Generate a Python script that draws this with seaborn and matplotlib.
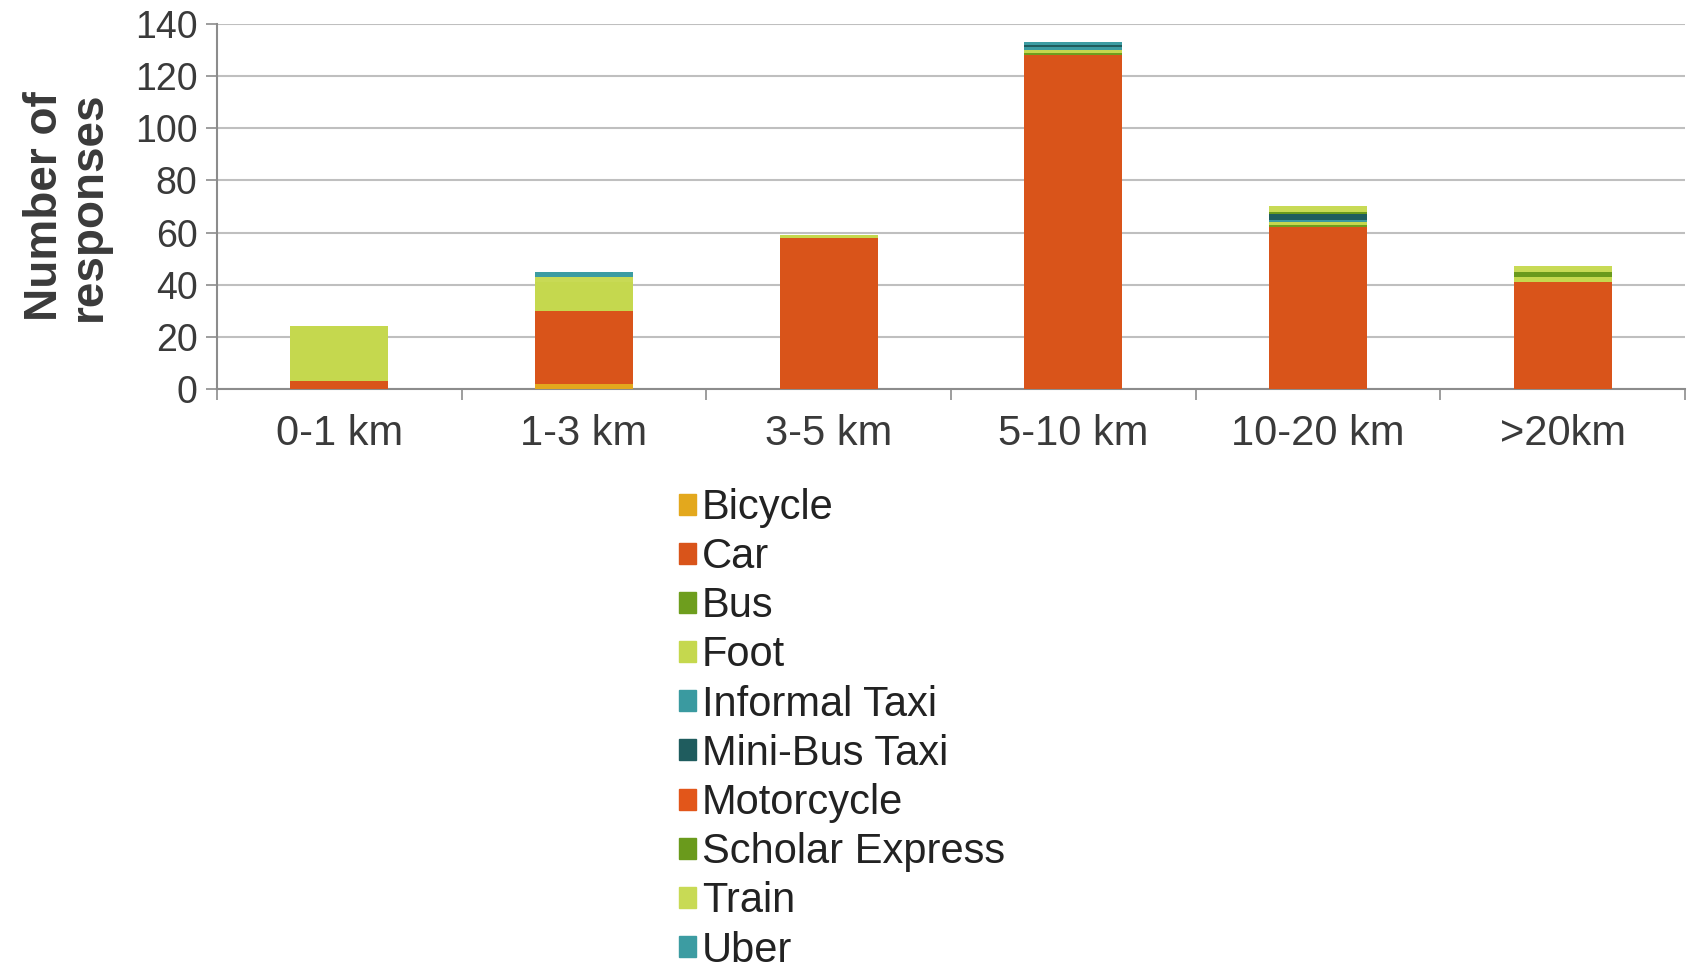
import matplotlib
matplotlib.use("Agg")
import matplotlib.pyplot as plt
import matplotlib.patches as mpatches
import seaborn as sns
import numpy as np
import pandas as pd

categories = ["0-1 km", "1-3 km", "3-5 km", "5-10 km", "10-20 km", ">20km"]
modes = ["Bicycle", "Car", "Bus", "Foot", "Informal Taxi", "Mini-Bus Taxi",
         "Motorcycle", "Scholar Express", "Train", "Uber"]
bicycle =         [0, 2, 0, 0, 0, 0]
car =             [3, 28, 58, 128, 62, 41]
bus =             [0, 0, 0, 1, 1, 0]
foot =            [21, 11, 1, 1, 1, 2]
informal_taxi =   [0, 0, 0, 1, 1, 0]
minibus_taxi =    [0, 0, 0, 1, 2, 0]
motorcycle =      [0, 0, 0, 0, 0, 0]
scholar_express = [0, 0, 0, 0, 1, 2]
train =           [0, 2, 0, 0, 2, 2]
uber =            [0, 2, 0, 1, 0, 0]
colors = ["#E3A81D", "#D9541A", "#6E9E1E", "#C5D84E", "#3A9AA0", "#1F5C5E",
          "#E2561A", "#6A9A1C", "#C8DA55", "#3C9CA2"]

series = [bicycle, car, bus, foot, informal_taxi, minibus_taxi,
          motorcycle, scholar_express, train, uber]

sns.set_theme(style="white")
plt.rcParams["font.family"] = ["Liberation Sans", "DejaVu Sans"]

fig = plt.figure(figsize=(16.91, 9.63), dpi=100)
ax = fig.add_axes([217 / 1691, 1 - 389 / 963, (1685 - 217) / 1691, (389 - 24) / 963])

cum = np.cumsum(np.array(series), axis=0)
for i in range(len(modes) - 1, -1, -1):
    df = pd.DataFrame({"cat": categories, "val": cum[i]})
    sns.barplot(data=df, x="cat", y="val", color=colors[i], width=0.4,
                saturation=1, ax=ax, order=categories, linewidth=0, zorder=3)

ax.set_ylim(0, 140)
ax.set_xlim(-0.5, len(categories) - 0.5)
ax.set_yticks(np.arange(0, 141, 20))
ax.yaxis.grid(True, color="#BFBFBF", linewidth=1.5, zorder=0)
ax.set_axisbelow(True)
for s in ["top", "right"]:
    ax.spines[s].set_visible(False)
for s in ["left", "bottom"]:
    ax.spines[s].set_color("#8C8C8C")
    ax.spines[s].set_linewidth(1.5)

ax.tick_params(axis="y", labelsize=27, colors="#3A3A3A", length=8, width=1.2,
               direction="out", left=True, pad=6)
ax.tick_params(axis="y", color="#8C8C8C")
ax.tick_params(axis="x", labelsize=30, labelcolor="#3A3A3A", length=0, pad=18)
ax.set_xticks(np.arange(-0.5, len(categories), 1.0), minor=True)
ax.tick_params(axis="x", which="minor", length=8, width=1.2, color="#8C8C8C",
               bottom=True, direction="out")
ax.set_xlabel("")
ax.set_ylabel("Number of\nresponses", fontsize=33, fontweight="bold",
              color="#3A3A3A", linespacing=1.0)
ax.yaxis.set_label_coords(-0.072, 0.5)

handles = [mpatches.Patch(color=c, label=m) for c, m in zip(colors, modes)]
fig.legend(handles=handles, loc="upper left",
           bbox_to_anchor=(679 / 1691, 1 - 488 / 963),
           frameon=False, fontsize=30, handlelength=0.4, handleheight=0.4,
           handletextpad=0.15, labelspacing=0.22, borderpad=0, borderaxespad=0,
           labelcolor="#222222")

fig.savefig("out.png", dpi=100, facecolor="white")
